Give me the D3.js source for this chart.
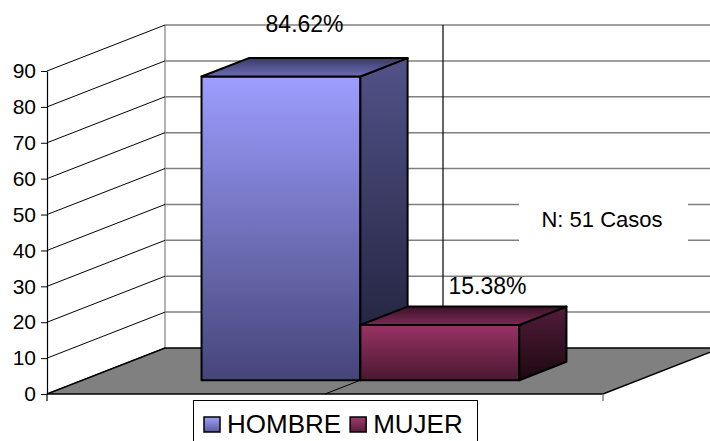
<!DOCTYPE html>
<html>
<head>
<meta charset="utf-8">
<script src="https://cdn.jsdelivr.net/npm/d3@7"></script>
<style>
  body { margin: 0; background: #fff; }
  svg { display: block; font-family: "Liberation Sans", Arial, sans-serif; }
</style>
</head>
<body>
<div id="chart"></div>
<script>
const series = ["HOMBRE", "MUJER"];
const values = [84.62, 15.38];
const valueLabels = ["84.62%", "15.38%"];
const yTicks = [0, 10, 20, 30, 40, 50, 60, 70, 80, 90];
const noteText = "N: 51 Casos";

// colores de las caras: frente, lado, arriba (inicio -> fin del degradado)
const faceColors = [
    { front: ["#9d9dff", "#45457a"], side: ["#525289", "#1d1d35"], top: ["#3a3a68", "#6c6cb4"], key: ["#a0a0ff", "#5a5a9a"] },
    { front: ["#993366", "#4a1830"], side: ["#521c39", "#1c0811"], top: ["#3c1228", "#7a2a56"], key: ["#a03a6c", "#5a1f3d"] }
];

drawChart();

function drawChart() {
    const width = 710, height = 441;

    const svg = d3.select("#chart").append("svg")
        .attr("width", width)
        .attr("height", height);

    // plano frontal
    const x0 = 47, x1 = 603;
    const y = d3.scaleLinear().domain([0, 90]).range([394, 71]);
    const dX = 118, dY = -46;      // profundidad total (proyeccion oblicua)
    const p = (x, v, d) => [x + d * dX, y(v) + d * dY];

    const xBand = d3.scaleBand()
        .domain(series)
        .range([x0, x1])
        .paddingInner(0)
        .paddingOuter(0.75);

    const defs = svg.append("defs");
    const grad = (id, c) => {
        const g = defs.append("linearGradient").attr("id", id)
            .attr("x1", 0).attr("y1", 0).attr("x2", 0).attr("y2", 1);
        g.append("stop").attr("offset", "0%").attr("stop-color", c[0]);
        g.append("stop").attr("offset", "100%").attr("stop-color", c[1]);
    };
    faceColors.forEach((fc, i) => {
        grad("front" + i, fc.front);
        grad("side" + i, fc.side);
        grad("top" + i, fc.top);
        grad("key" + i, fc.key);
    });

    const line = (a, b) => svg.append("line")
        .attr("x1", a[0]).attr("y1", a[1]).attr("x2", b[0]).attr("y2", b[1]);

    // pared del fondo: lineas de division
    yTicks.filter(v => v > 0).forEach(v => {
        line(p(x0, v, 1), p(x1, v, 1)).attr("stroke", "#808080").attr("stroke-width", 1.5);
    });
    line(p(x0, 0, 1), p(x0, 90, 1)).attr("stroke", "#808080").attr("stroke-width", 1.2);

    // pared lateral: diagonales
    yTicks.forEach(v => {
        line(p(x0, v, 0), p(x0, v, 1)).attr("stroke", "#000").attr("stroke-width", 1);
    });

    // linea de categoria en el fondo
    const cx = (x0 + x1) / 2;
    line(p(cx, 0, 1), p(cx, 90, 1)).attr("stroke", "#000").attr("stroke-width", 1.2);

    // piso
    const floor = [p(x0, 0, 0), p(x1, 0, 0), p(x1, 0, 1), p(x0, 0, 1)];
    svg.append("polygon")
        .attr("points", floor.map(d => d.join(",")).join(" "))
        .attr("fill", "#808080")
        .attr("stroke", "#000")
        .attr("stroke-width", 1.5);
    line(p(cx, 0, 0), p(cx, 0, 1)).attr("stroke", "#000").attr("stroke-width", 1);

    // cuadro de texto
    svg.append("rect")
        .attr("x", 519).attr("y", 188)
        .attr("width", 169).attr("height", 66)
        .attr("fill", "#fff");
    svg.append("text")
        .attr("x", 602).attr("y", 227)
        .attr("text-anchor", "middle")
        .attr("font-size", 22)
        .attr("fill", "#000")
        .text(noteText);

    // barras 3D
    const d0 = 0.3, d1 = 0.7;
    const bw = xBand.bandwidth();
    const poly = pts => pts.map(d => d.join(",")).join(" ");

    series.forEach((s, i) => {
        const bx = xBand(s), v = values[i];
        const g = svg.append("g").attr("class", "bar");

        g.append("polygon")
            .attr("points", poly([p(bx, 0, d0), p(bx + bw, 0, d0), p(bx + bw, v, d0), p(bx, v, d0)]))
            .attr("fill", `url(#front${i})`);
        g.append("polygon")
            .attr("points", poly([p(bx + bw, 0, d0), p(bx + bw, 0, d1), p(bx + bw, v, d1), p(bx + bw, v, d0)]))
            .attr("fill", `url(#side${i})`);
        g.append("polygon")
            .attr("points", poly([p(bx, v, d0), p(bx + bw, v, d0), p(bx + bw, v, d1), p(bx, v, d1)]))
            .attr("fill", `url(#top${i})`);
        g.selectAll("polygon")
            .attr("stroke", "#000")
            .attr("stroke-width", 2)
            .attr("stroke-linejoin", "round");
    });

    // etiquetas de valor
    const labelShift = [[0, -26], [24, -13]];
    series.forEach((s, i) => {
        const top = p(xBand(s) + bw / 2, values[i], (d0 + d1) / 2);
        svg.append("text")
            .attr("x", top[0] + labelShift[i][0])
            .attr("y", y(values[i]) + d1 * dY + labelShift[i][1])
            .attr("text-anchor", "middle")
            .attr("font-size", 23)
            .attr("fill", "#000")
            .text(valueLabels[i]);
    });

    // eje Y
    const axis = svg.append("g")
        .attr("transform", `translate(${x0},0)`)
        .call(d3.axisLeft(y).tickValues(yTicks).tickSize(6).tickPadding(5).tickSizeOuter(0));
    axis.select(".domain").attr("stroke", "#000").attr("stroke-width", 1.2);
    axis.selectAll(".tick line").attr("stroke", "#000");
    axis.selectAll(".tick text")
        .attr("font-family", "Liberation Sans, Arial, sans-serif")
        .attr("font-size", 21)
        .attr("fill", "#000");
    line([x0, y(0)], [x0, y(0) + 7]).attr("stroke", "#000").attr("stroke-width", 1.2);
    line([x1, y(0)], [x1, y(0) + 7]).attr("stroke", "#808080").attr("stroke-width", 1.5);

    // leyenda
    const legend = svg.append("g").attr("class", "legend");
    legend.append("rect")
        .attr("x", 193.5).attr("y", 400.5)
        .attr("width", 284).attr("height", 46)
        .attr("fill", "#fff")
        .attr("stroke", "#000")
        .attr("stroke-width", 1);
    let lx = 204;
    series.forEach((s, i) => {
        legend.append("rect")
            .attr("x", lx).attr("y", 417)
            .attr("width", 16).attr("height", 15)
            .attr("fill", `url(#key${i})`)
            .attr("stroke", "#000")
            .attr("stroke-width", 1.5);
        const t = legend.append("text")
            .attr("x", lx + 23).attr("y", 433)
            .attr("font-size", 26)
            .attr("fill", "#000")
            .text(s);
        lx += 23 + t.node().getComputedTextLength() + 9;
    });
}
</script>
</body>
</html>
